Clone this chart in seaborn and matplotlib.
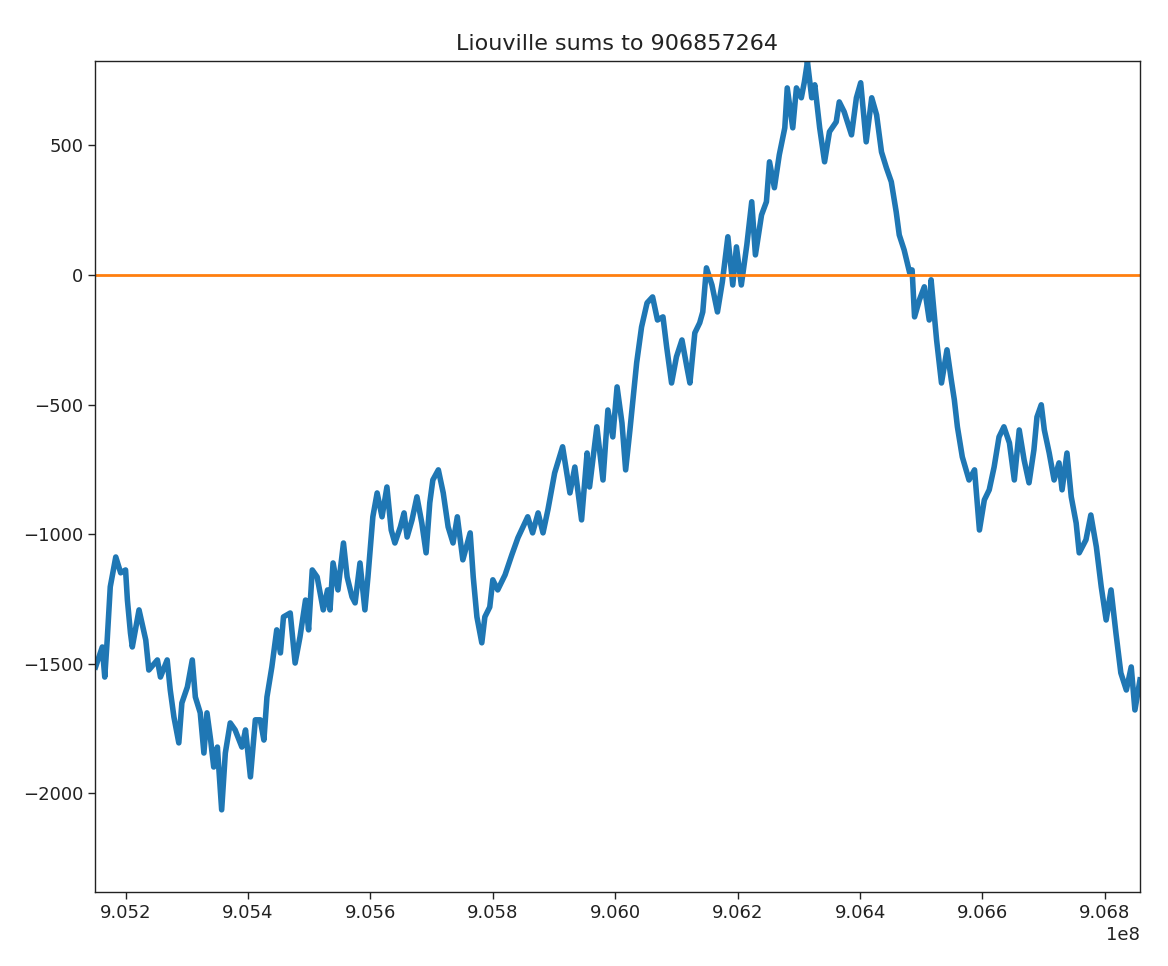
import matplotlib
matplotlib.use("Agg")
import matplotlib.pyplot as plt
import seaborn as sns
import pandas as pd

# n values in thousands (n = n_k * 1000)
n_k = [
    905151, 905162, 905166, 905170, 905175, 905184, 905192, 905200, 905203, 905208,
    905211, 905222, 905233, 905238, 905252, 905257, 905268, 905273, 905279, 905287,
    905292, 905301, 905309, 905314, 905322, 905328, 905333, 905339, 905344, 905350,
    905357, 905363, 905371, 905379, 905390, 905396, 905404, 905412, 905420, 905426,
    905431, 905439, 905447, 905453, 905458, 905469,
    905477, 905485, 905494, 905499, 905505, 905513, 905523, 905530, 905534, 905539,
    905547, 905556, 905562, 905570, 905575, 905583, 905591, 905596, 905604, 905611,
    905619, 905627, 905634, 905640, 905649, 905655, 905660, 905668, 905676, 905684,
    905691, 905697, 905702, 905711, 905719, 905727, 905735, 905742, 905751, 905763,
    905768, 905774, 905782, 905787, 905795, 905800, 905808,
    905820, 905831,
    905841, 905857, 905865, 905874, 905882, 905890, 905901, 905914, 905926, 905934,
    905945, 905954, 905958, 905970, 905980, 905988, 905996, 906003, 906011, 906017,
    906024, 906029, 906035, 906043, 906052, 906061, 906069, 906078, 906084, 906092,
    906100, 906109, 906117, 906122, 906130, 906138,
    906143, 906149, 906158, 906167, 906175, 906184, 906192, 906198, 906206, 906215,
    906223, 906229, 906239, 906247, 906252, 906260, 906268, 906277, 906281, 906290,
    906296, 906304, 906309, 906314, 906321, 906326, 906334, 906342, 906350, 906361,
    906366, 906374, 906386, 906394, 906401, 906410, 906419, 906427, 906435, 906443,
    906451, 906459, 906464,
    906472, 906481, 906485, 906489, 906497, 906505, 906513, 906516, 906525, 906533,
    906542, 906549, 906554, 906559, 906567, 906578, 906587, 906595, 906603, 906611,
    906619, 906627,
    906635, 906644, 906652, 906660, 906668, 906676, 906684, 906689, 906696, 906701,
    906709, 906717, 906725, 906730, 906738, 906745, 906753, 906758, 906769, 906777,
    906786, 906794, 906802, 906810, 906818, 906826, 906835, 906843, 906849, 906857.264,
]

liouville_sum = [
    -1512, -1435, -1551, -1408, -1203, -1088, -1149, -1138, -1254, -1381,
    -1435, -1292, -1408, -1524, -1485, -1551, -1485, -1601, -1705, -1805,
    -1651, -1589, -1485, -1628, -1689, -1844, -1689, -1794, -1898, -1821,
    -2063, -1844, -1728, -1755, -1821, -1755, -1936, -1716, -1716, -1794,
    -1628, -1512, -1369, -1458, -1319, -1304,
    -1497, -1396, -1254, -1369, -1138, -1165, -1292, -1215, -1292, -1111,
    -1215, -1034, -1165, -1242, -1265, -1111, -1292, -1165, -933, -841,
    -933, -818, -984, -1034, -972, -918, -1011, -945, -856, -957,
    -1072, -879, -791, -752, -841, -972, -1034, -933, -1099, -995,
    -1165, -1319, -1419, -1319, -1281, -1176, -1215,
    -1157, -1080,
    -1014, -933, -995, -918, -995, -906, -764, -663, -841, -741,
    -945, -687, -818, -586, -791, -521, -625, -432, -571, -752,
    -598, -482, -339, -201, -108, -85, -174, -162, -278, -417,
    -316, -251, -355, -417, -224, -185,
    -143, 27, -39, -143, -27, 147, -39, 108, -39, 116,
    282, 77, 231, 282, 436, 336, 463, 567, 721, 567,
    721, 683, 744, 822, 683, 733, 567, 436, 552, 590,
    667, 629, 540, 683, 741, 513, 683, 617, 474, 413,
    359, 243, 154,
    96, 8, 19, -162, -96, -46, -174, -19, -251, -417,
    -289, -405, -482, -586, -702, -791, -752, -984, -868, -829,
    -741, -625,
    -586, -648, -791, -598, -714, -802, -675, -548, -501, -598,
    -687, -791, -725, -829, -687, -856, -957, -1072, -1022, -926,
    -1049, -1203, -1331, -1215, -1381, -1535, -1601, -1512, -1678, -1562,
]

title_text = "Liouville sums to 906857264"

df = pd.DataFrame({"n": [v * 1000 for v in n_k], "L": liouville_sum})

fig = plt.figure(figsize=(11.68, 9.66), dpi=100)
ax = fig.add_axes([0.0813, 0.0766, 0.8947, 0.8603])

sns.lineplot(data=df, x="n", y="L", ax=ax, color="#1f77b4", linewidth=4.0,
             estimator=None, sort=False)
ax.axhline(0, color="#ff7f0e", linewidth=2.0)

ax.set_xlim(905150000, 906857264)
ax.set_ylim(-2380, 825)
ax.set_xticks([905200000 + 200000 * i for i in range(9)])
ax.set_yticks([-2000, -1500, -1000, -500, 0, 500])
ax.set_xlabel("")
ax.set_ylabel("")
ax.set_title(title_text, fontsize=16, color="#222222", pad=8)
ax.tick_params(labelsize=13, length=5, width=1, colors="#222222")
ax.xaxis.get_offset_text().set_fontsize(13)
for s in ax.spines.values():
    s.set_linewidth(1.0)
    s.set_color("#222222")

fig.savefig("out.png", dpi=100)
